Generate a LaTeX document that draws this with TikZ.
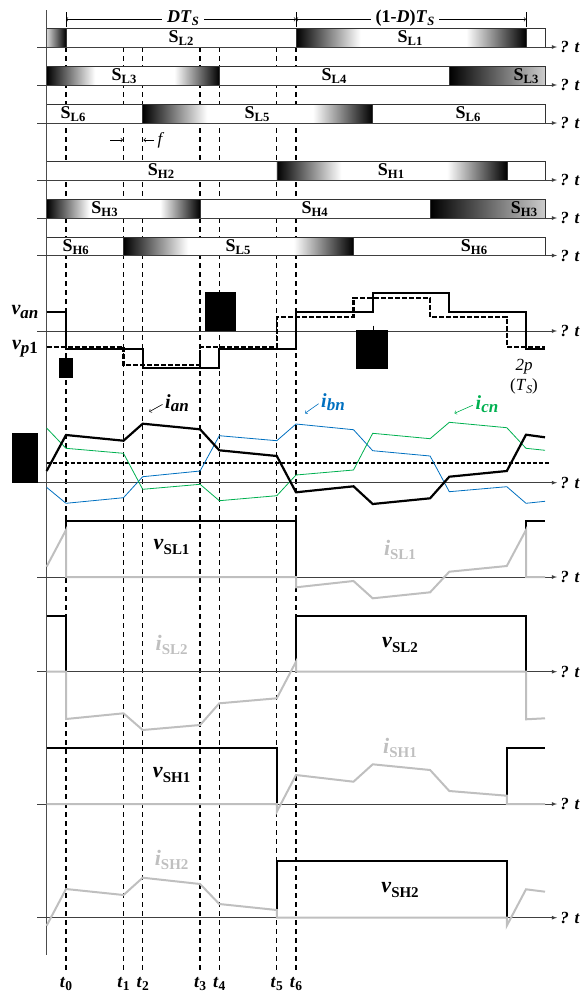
\documentclass[tikz,border=0pt]{standalone}
\usepackage{fontspec}
\setmainfont{Liberation Serif}
\usetikzlibrary{arrows}

\definecolor{ibn}{RGB}{0,112,192}
\definecolor{icn}{RGB}{0,176,80}
\newcommand{\subl}[2][0.7]{\raisebox{-0.4ex}{\scalebox{#1}{#2}}}

\pgfdeclarehorizontalshading{gatebar}{100bp}{color(0bp)=(black); color(25bp)=(black); color(39bp)=(white); color(62bp)=(white); color(75bp)=(black); color(100bp)=(black)}
\pgfdeclarehorizontalshading{gaterise}{100bp}{color(0bp)=(black!15); color(25bp)=(black!15); color(75bp)=(black); color(100bp)=(black)}
\pgfdeclarehorizontalshading{gatefall}{100bp}{color(0bp)=(black); color(25bp)=(black); color(75bp)=(black!20); color(100bp)=(black!20)}

\tikzset{
  barbox/.style={draw=black!80, line width=0.6pt, fill=white},
  gatebox/.style={draw=black!80, line width=0.6pt, shading=gatebar},
  taxis/.style={draw=black!75, line width=0.8pt, -latex},
  tmark/.style={line width=1.3pt, dash pattern=on 5pt off 4pt},
  slbl/.style={font=\fontsize{18}{18}\selectfont\bfseries},
  wlbl/.style={font=\fontsize{22}{22}\selectfont\bfseries},
  vlbl/.style={font=\fontsize{20}{20}\selectfont\bfseries},
  tlbl/.style={font=\fontsize{18}{18}\selectfont\bfseries},
  plbl/.style={font=\fontsize{17}{17}\selectfont},
  vsolid/.style={line width=1.8pt},
  vdash/.style={line width=2.2pt, dash pattern=on 5pt off 2pt},
  igray/.style={line width=2pt, black!25},
  lead/.style={->, line width=0.6pt}
}

\begin{document}
\begin{tikzpicture}[x=1pt, y=-1pt, every node/.style={inner sep=0pt}]
\useasboundingbox (0,0) rectangle (585,993);

% instants t0..t6
\foreach \x/\n in {66/0,123.5/1,142.7/2,200.1/3,219.3/4,276.8/5,296/6}{
  \draw[tmark] (\x,47) -- (\x,971);
  \node[tlbl] (t\n) at (\x,984) {\textit{t}\subl[0.75]{\n}};
}

% period
\foreach \x in {66,296,526} \draw[line width=0.6pt] (\x,12) -- (\x,27);
\draw[<->, line width=0.6pt] (66,19.3) -- (296,19.3);
\draw[<->, line width=0.6pt] (296,19.3) -- (526,19.3);
\node[slbl, fill=white, inner xsep=5pt, inner ysep=2pt] (dts) at (183,18) {\textit{DT}\subl{\textit{S}}};
\node[slbl, fill=white, inner xsep=5pt, inner ysep=2pt] (ddts) at (405,18) {(1-\textit{D})\textit{T}\subl{\textit{S}}};

% gate signals
\draw[barbox] (46.6,28.5) rectangle (545,47);
\draw[draw=black!80, line width=0.6pt, shading=gaterise] (46.6,28.5) rectangle (66,47);
\draw[gatebox] (296,28.5) rectangle (526,47);
\node[slbl] (sl2) at (181,38) {S\subl{L2}};
\node[slbl] (sl1) at (410,38) {S\subl{L1}};

\draw[barbox] (46.6,66) rectangle (545,85);
\draw[gatebox] (46.6,66) rectangle (219.3,85);
\draw[draw=black!80, line width=0.6pt, shading=gatefall] (449.3,66) rectangle (545,85);
\node[slbl] (sl3) at (124,76) {S\subl{L3}};
\node[slbl] (sl4) at (334,76) {S\subl{L4}};
\node[slbl] (sl3b) at (526,76) {S\subl{L3}};

\draw[barbox] (46.6,104) rectangle (545,123);
\draw[gatebox] (142.7,104) rectangle (372.7,123);
\node[slbl] (sl6) at (73,114) {S\subl{L6}};
\node[slbl] (sl5) at (257,114) {S\subl{L5}};
\node[slbl] (sl6b) at (468,114) {S\subl{L6}};

\draw[barbox] (46.6,161) rectangle (545,180);
\draw[gatebox] (276.8,161) rectangle (506.8,180);
\node[slbl] (sh2) at (161,171) {S\subl{H2}};
\node[slbl] (sh1) at (391,171) {S\subl{H1}};

\draw[barbox] (46.6,199) rectangle (545,218);
\draw[gatebox] (46.6,199) rectangle (200.1,218);
\draw[draw=black!80, line width=0.6pt, shading=gatefall] (430.1,199) rectangle (545,218);
\node[slbl] (sh3) at (104.5,209) {S\subl{H3}};
\node[slbl] (sh4) at (314.6,209) {S\subl{H4}};
\node[slbl] (sh3b) at (524,209) {S\subl{H3}};

\draw[barbox] (46.6,237) rectangle (545,255.5);
\draw[gatebox] (123.5,237) rectangle (353.5,255.5);
\node[slbl] (sh6) at (75.7,247) {S\subl{H6}};
\node[slbl] (sh5) at (238,247) {S\subl{L5}};
\node[slbl] (sh6b) at (474,247) {S\subl{H6}};

% dead time f
\coordinate (fa) at (110,140);
\coordinate (fb) at (123,140);
\coordinate (fc) at (143.5,140);
\node[plbl] (fl) at (161,140) {\textit{f}};
\draw[->, line width=0.7pt] (fa) -- (fb);
\draw[->, line width=0.7pt, shorten <=3pt] (fl.west) -- (fc);

% axes
\draw[black!70, line width=0.8pt] (46.6,10) -- (46.6,955);
\foreach \y in {47,85,123,180,218,255.5,331,482.7,577,671.7,804,917.7}
  \draw[taxis] (37,\y) -- (557,\y) node[plbl, anchor=west, xshift=3pt] {\bfseries\itshape ? t};

% phase voltages
\draw[vdash] (46.6,346.7) -| (123.5,365) -| (200.1,346.7) -| (276.8,316.7) -| (353.5,297.7) -| (430.1,316.7) -| (506.8,346.7) -- (545,346.7);
\draw[vsolid] (46.6,312.3) -| (66,349.3) -| (142.7,368.3) -| (219.3,349.3) -| (296,312.3) -| (372.7,293.3) -| (449.3,312.3) -| (526,349.3) -- (545,349.3);
\node[vlbl] (van) at (25,312) {\textit{v\subl[0.85]{an}}};
\node[vlbl] (vp1) at (25,349) {\textit{v\subl[0.85]{p}}\subl[0.85]{1}};
\node[plbl] (per) at (524,367) {\textit{2p}};
\node[plbl] (perts) at (524,386) {(\textit{T}\subl{\textit{S}})};
\fill (59,358) rectangle (73,378);
\fill (204.5,292) rectangle (236,331);
\fill (356,330) rectangle (388,369.3);
\draw[line width=0.6pt] (373,325.5) -- (373,330);

% phase currents
\draw[line width=2.2pt, dash pattern=on 4pt off 2pt] (46.6,463.3) -- (550,463.3);
\draw[ibn, line width=0.8pt] (46.6,487.3) -- (66,503.3) -- (123.5,497.7) -- (142.7,476.7) -- (200.1,471) -- (219.3,435.7) -- (276.8,440.7) -- (296,424) -- (353.5,429.7) -- (372.7,450.7) -- (430.1,456) -- (449.3,491.7) -- (506.8,486.7) -- (526,503.3) -- (545,501.3);
\draw[icn, line width=0.8pt] (46.6,428) -- (66,448.3) -- (123.5,453.3) -- (142.7,489.3) -- (200.1,484.3) -- (219.3,500.7) -- (276.8,495.7) -- (296,475) -- (353.5,470) -- (372.7,433.3) -- (430.1,438.7) -- (449.3,422.3) -- (506.8,427.7) -- (526,448.3) -- (545,450.3);
\draw[line width=2.2pt] (46.6,471) -- (66,435) -- (123.5,440.7) -- (142.7,423.7) -- (200.1,429.3) -- (219.3,450.3) -- (276.8,456) -- (296,492.3) -- (353.5,486.3) -- (372.7,504) -- (430.1,498.3) -- (449.3,476.7) -- (506.8,471) -- (526,434.7) -- (545,437.3);
\fill (12.3,433.3) rectangle (37.5,482.7);
\node[vlbl] (ian) at (177,403) {\textit{i\subl[0.85]{an}}};
\node[vlbl, ibn] (ibnl) at (333,402) {\textit{i\subl[0.85]{bn}}};
\node[vlbl, icn] (icnl) at (487,404) {\textit{i\subl[0.85]{cn}}};
\coordinate (ianp) at (149.3,411.7);
\coordinate (ibnp) at (305,413.3);
\coordinate (icnp) at (454.5,413.3);
\draw[lead, shorten <=3pt] (ian.west) -- (ianp);
\draw[lead, ibn, shorten <=3pt] (ibnl.west) -- (ibnp);
\draw[lead, icn, shorten <=3pt] (icnl.west) -- (icnp);

% switch SL1
\draw[vsolid] (66,577) -- (66,520.7) -- (296,520.7) -- (296,577);
\draw[vsolid] (526,577) -- (526,520.7) -- (545,520.7);
\draw[igray] (46.6,566.7) -- (66,530) -- (66,577) -- (296,577) -- (296,587.3) -- (353.5,581) -- (372.7,598.3) -- (430.1,592.3) -- (449.3,571.7) -- (506.8,566) -- (526,530) -- (526,577) -- (545,577);
\node[wlbl] (vsl1) at (171.6,547) {\textit{v}\subl[0.68]{SL1}};
\node[wlbl, black!25] (isl1) at (400,550) {\textit{i}\subl[0.68]{SL1}};

% switch SL2
\draw[vsolid] (46.6,616) -- (66,616) -- (66,671.7);
\draw[vsolid] (296,671.7) -- (296,616) -- (526,616) -- (526,671.7);
\draw[igray] (46.6,671.7) -- (66,671.7) -- (66,719) -- (123.5,713.3) -- (142.7,730) -- (200.1,725) -- (219.3,703.3) -- (276.8,698.3) -- (296,661.7) -- (296,671.7) -- (526,671.7) -- (526,719.3) -- (545,718.3);
\node[wlbl, black!25] (isl2) at (171.6,645) {\textit{i}\subl[0.68]{SL2}};
\node[wlbl] (vsl2) at (400,645) {\textit{v}\subl[0.68]{SL2}};

% switch SH1
\draw[vsolid] (46.6,747.7) -- (276.8,747.7) -- (276.8,804);
\draw[vsolid] (506.8,804) -- (506.8,747.7) -- (545,747.7);
\draw[igray] (46.6,804) -- (276.8,804) -- (276.8,811.7) -- (296,775) -- (353.5,781.7) -- (372.7,764.3) -- (430.1,770) -- (449.3,791) -- (506.8,795.7) -- (506.8,804) -- (545,804);
\node[wlbl] (vsh1) at (171.6,775) {\textit{v}\subl[0.68]{SH1}};
\node[wlbl, black!25] (ish1) at (400,748) {\textit{i}\subl[0.68]{SH1}};

% switch SH2
\draw[vsolid] (276.8,917.7) -- (276.8,861) -- (506.8,861) -- (506.8,917.7);
\draw[igray] (46.6,925.7) -- (66,889) -- (123.5,895) -- (142.7,877.7) -- (200.1,884) -- (219.3,904) -- (276.8,910) -- (276.8,917.7) -- (506.8,917.7) -- (506.8,925.7) -- (526,889.3) -- (545,891.7);
\node[wlbl, black!25] (ish2) at (171.6,860) {\textit{i}\subl[0.68]{SH2}};
\node[wlbl] (vsh2) at (400,890) {\textit{v}\subl[0.68]{SH2}};
\end{tikzpicture}
\end{document}
